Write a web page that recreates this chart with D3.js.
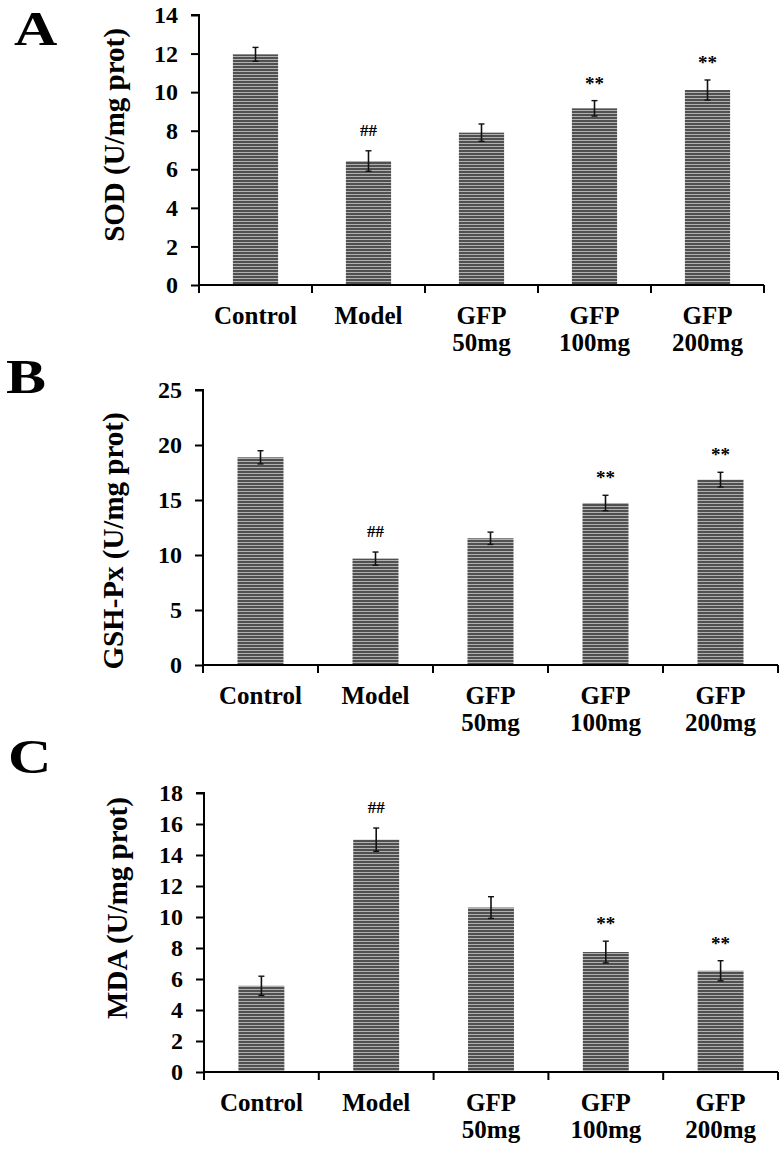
<!DOCTYPE html>
<html>
<head>
<meta charset="utf-8">
<script src="https://cdn.jsdelivr.net/npm/d3@7/dist/d3.min.js"></script>
<style>
  html, body { margin: 0; padding: 0; background: #fff; }
  svg { display: block; }
  text { font-family: "Liberation Serif", "Times New Roman", serif; font-weight: bold; fill: #000; }
</style>
</head>
<body>
<svg id="chart" width="783" height="1156"></svg>
<script>
// ---- data ----
const categories = ["Control", "Model", "GFP 50mg", "GFP 100mg", "GFP 200mg"];
const categoryLines = [["Control"], ["Model"], ["GFP", "50mg"], ["GFP", "100mg"], ["GFP", "200mg"]];

const sodMean = [11.96, 6.43, 7.90, 9.16, 10.11];
const sodErr  = [0.36, 0.53, 0.45, 0.40, 0.52];
const sodMarks = ["", "##", "", "**", "**"];
const sodTicks = [0, 2, 4, 6, 8, 10, 12, 14];

const gshMean = [18.88, 9.67, 11.52, 14.73, 16.85];
const gshErr  = [0.60, 0.60, 0.56, 0.70, 0.67];
const gshMarks = ["", "##", "", "**", "**"];
const gshTicks = [0, 5, 10, 15, 20, 25];

const mdaMean = [5.56, 14.99, 10.61, 7.74, 6.53];
const mdaErr  = [0.62, 0.75, 0.70, 0.70, 0.65];
const mdaMarks = ["", "##", "", "**", "**"];
const mdaTicks = [0, 2, 4, 6, 8, 10, 12, 14, 16, 18];

// ---- layout ----
const panels = [
  { letter: "A", title: "SOD (U/mg prot)", mean: sodMean, err: sodErr, marks: sodMarks, ticks: sodTicks,
    left: 199, right: 764, top: 15, bottom: 285, letterX: 14, letterY: 45, titleX: 114, titleY: 135 },
  { letter: "B", title: "GSH-Px (U/mg prot)", mean: gshMean, err: gshErr, marks: gshMarks, ticks: gshTicks,
    left: 203, right: 778, top: 390, bottom: 665, letterX: 6, letterY: 393, titleX: 113, titleY: 541 },
  { letter: "C", title: "MDA (U/mg prot)", mean: mdaMean, err: mdaErr, marks: mdaMarks, ticks: mdaTicks,
    left: 204, right: 778, top: 793, bottom: 1072, letterX: 8, letterY: 773, titleX: 117, titleY: 908 }
];

const svg = d3.select("#chart");

// stripe pattern for bars
const defs = svg.append("defs");
const pat = defs.append("pattern").attr("id", "stripes")
  .attr("patternUnits", "userSpaceOnUse").attr("width", 8).attr("height", 3);
pat.append("rect").attr("width", 8).attr("height", 3).attr("fill", "#505050");
pat.append("rect").attr("y", 2).attr("width", 8).attr("height", 1).attr("fill", "#b0b0b0");

panels.forEach(p => {
  const g = svg.append("g");
  const yMax = p.ticks[p.ticks.length - 1];
  const y = d3.scaleLinear().domain([0, yMax]).range([p.bottom, p.top]);
  const x = d3.scaleBand().domain(categories).range([p.left, p.right])
    .paddingInner(0.6).paddingOuter(0.3);

  // bars
  g.selectAll("rect.bar").data(categories).enter().append("rect")
    .attr("class", "bar")
    .attr("x", d => x(d))
    .attr("width", x.bandwidth())
    .attr("y", (d, i) => y(p.mean[i]))
    .attr("height", (d, i) => y(0) - y(p.mean[i]))
    .attr("fill", "url(#stripes)");

  // error bars
  const eb = g.selectAll("g.err").data(categories).enter().append("g").attr("class", "err");
  eb.append("line")
    .attr("x1", d => x(d) + x.bandwidth() / 2).attr("x2", d => x(d) + x.bandwidth() / 2)
    .attr("y1", (d, i) => y(p.mean[i] - p.err[i])).attr("y2", (d, i) => y(p.mean[i] + p.err[i]))
    .attr("stroke", "#111").attr("stroke-width", 1.6);
  [1, -1].forEach(s => {
    eb.append("line")
      .attr("x1", d => x(d) + x.bandwidth() / 2 - 3).attr("x2", d => x(d) + x.bandwidth() / 2 + 3)
      .attr("y1", (d, i) => y(p.mean[i] + s * p.err[i])).attr("y2", (d, i) => y(p.mean[i] + s * p.err[i]))
      .attr("stroke", "#111").attr("stroke-width", 1.4);
  });

  // significance marks
  g.selectAll("text.mark").data(categories).enter().append("text")
    .attr("class", "mark")
    .attr("x", d => x(d) + x.bandwidth() / 2)
    .attr("y", (d, i) => y(p.mean[i] + p.err[i]) - (p.marks[i] === "##" ? 15 : 11))
    .attr("text-anchor", "middle")
    .style("font-size", (d, i) => p.marks[i] === "##" ? "17px" : "19px")
    .text((d, i) => p.marks[i]);

  // y axis
  const yAxis = d3.axisLeft(y).tickValues(p.ticks).tickSize(8).tickPadding(13).tickFormat(d3.format("d"));
  const ya = g.append("g").attr("transform", `translate(${p.left},0)`).call(yAxis);
  ya.select(".domain").attr("d", `M-8,${p.top}H0V${p.bottom + 8}`).attr("stroke", "#000").attr("stroke-width", 2).attr("fill", "none");
  ya.selectAll(".tick line").attr("stroke", "#000").attr("stroke-width", 2);
  ya.selectAll(".tick text").style("font-size", "24px").style("font-family", "'Liberation Serif', serif").style("font-weight", "bold").attr("fill", "#000");

  // x axis line and boundary ticks
  g.append("line").attr("x1", p.left).attr("x2", p.right).attr("y1", p.bottom).attr("y2", p.bottom)
    .attr("stroke", "#000").attr("stroke-width", 2);
  const bounds = categories.map(d => x(d) - x.step() * 0.3).concat([p.right]);
  g.selectAll("line.xt").data(bounds.slice(1)).enter().append("line")
    .attr("x1", d => d).attr("x2", d => d).attr("y1", p.bottom).attr("y2", p.bottom + 8)
    .attr("stroke", "#000").attr("stroke-width", 2);

  // x labels
  categories.forEach((c, i) => {
    const t = g.append("text")
      .attr("x", x(c) + x.bandwidth() / 2)
      .attr("y", p.bottom + 39)
      .attr("text-anchor", "middle")
      .style("font-size", "25px");
    categoryLines[i].forEach((ln, j) => {
      t.append("tspan").attr("x", x(c) + x.bandwidth() / 2).attr("dy", j === 0 ? 0 : 27).text(ln);
    });
  });

  // y title
  g.append("text")
    .attr("transform", `translate(${p.titleX},${p.titleY}) rotate(-90)`)
    .attr("text-anchor", "middle")
    .attr("dominant-baseline", "central")
    .style("font-size", "29px")
    .text(p.title);

  // panel letter
  g.append("text")
    .attr("transform", `translate(${p.letterX},${p.letterY}) scale(1.25,1)`)
    .style("font-size", "48px")
    .text(p.letter);
});
</script>
</body>
</html>
